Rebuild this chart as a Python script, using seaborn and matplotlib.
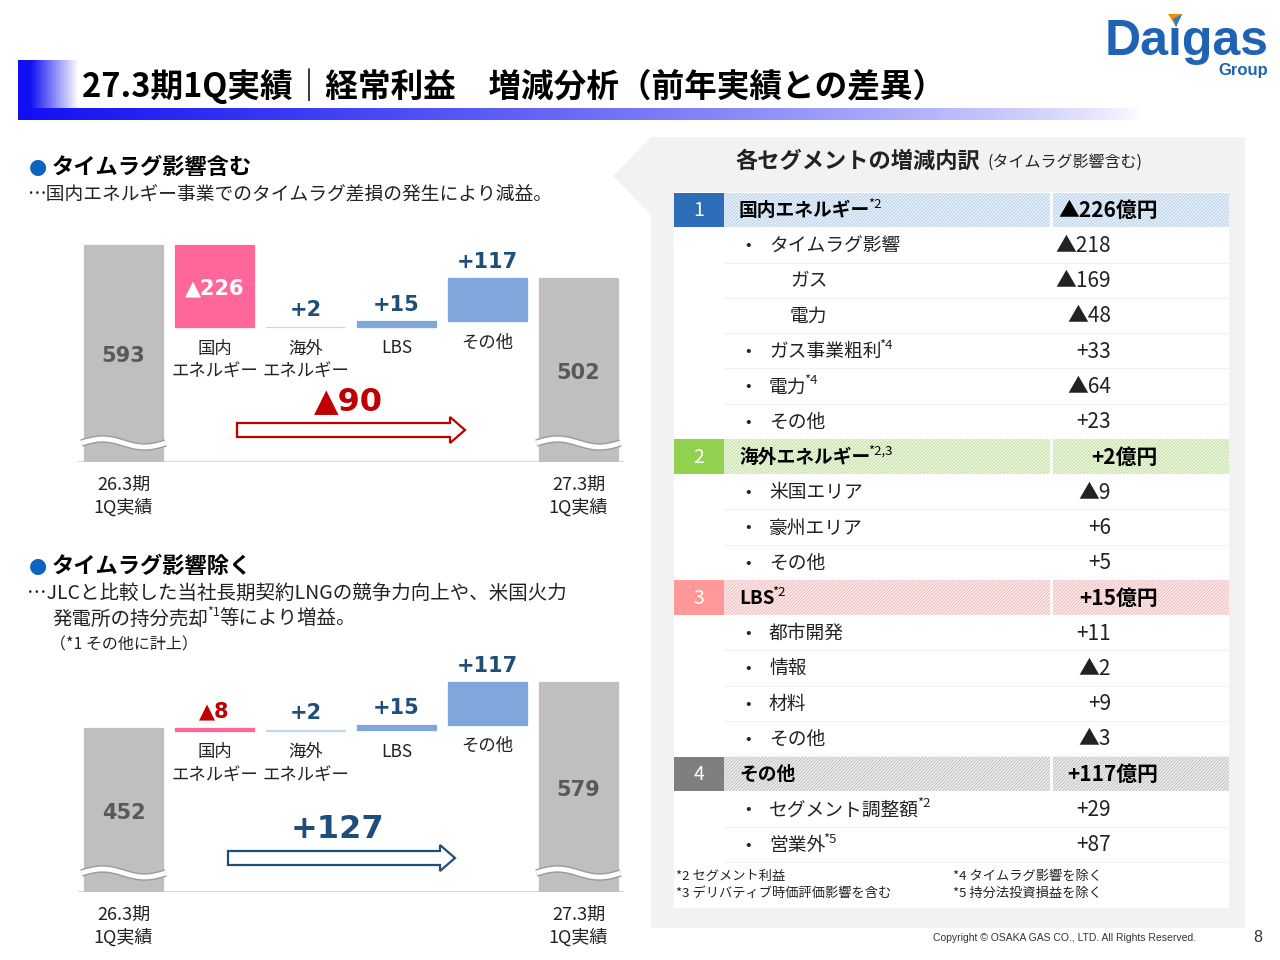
import numpy as np
import pandas as pd
import matplotlib
matplotlib.use("Agg")
import matplotlib.pyplot as plt
from matplotlib.patches import Rectangle, Polygon
import seaborn as sns

# ---------------- data ----------------
categories = ["26.3期\n1Q実績", "国内\nエネルギー", "海外\nエネルギー", "LBS", "その他", "27.3期\n1Q実績"]

incl_start = 593
incl_deltas = [-226, 2, 15, 117]
incl_end = 502
incl_change = -90

excl_start = 452
excl_deltas = [-8, 2, 15, 117]
excl_end = 579
excl_change = 127

seg_numbers = ["1", "2", "3", "4"]
seg_names = ["国内エネルギー", "海外エネルギー", "LBS", "その他"]
seg_notes = ["*2", "*2,3", "*2", ""]
seg_totals = [-226, 2, 15, 117]

seg1_items = ["タイムラグ影響", "ガス", "電力", "ガス事業粗利", "電力", "その他"]
seg1_notes = ["", "", "", "*4", "*4", ""]
seg1_levels = [1, 2, 2, 1, 1, 1]
seg1_values = [-218, -169, -48, 33, -64, 23]

seg2_items = ["米国エリア", "豪州エリア", "その他"]
seg2_notes = ["", "", ""]
seg2_levels = [1, 1, 1]
seg2_values = [-9, 6, 5]

seg3_items = ["都市開発", "情報", "材料", "その他"]
seg3_notes = ["", "", "", ""]
seg3_levels = [1, 1, 1, 1]
seg3_values = [11, -2, 9, -3]

seg4_items = ["セグメント調整額", "営業外"]
seg4_notes = ["*2", "*5"]
seg4_levels = [1, 1]
seg4_values = [29, 87]

footnotes_left = ["*2 セグメント利益", "*3 デリバティブ時価評価影響を含む"]
footnotes_right = ["*4 タイムラグ影響を除く", "*5 持分法投資損益を除く"]

# ---------------- style ----------------
sns.set_style("white")
plt.rcParams["font.family"] = ["Noto Sans CJK JP", "DejaVu Sans"]
plt.rcParams["hatch.linewidth"] = 0.8

GRAY = "#BFBFBF"
PINK = "#FF6699"
LIGHTBLUE = "#C5D8F0"
MIDBLUE = "#7FA7DC"
NAVY = "#1F4E79"
RED = "#C00000"
TXT = "#222222"


def fmt(v, unit=""):
    return ("▲" if v < 0 else "+") + f"{abs(v)}" + unit


fig = plt.figure(figsize=(12.8, 9.6), dpi=100)
fig.patch.set_facecolor("white")
ax_bg = fig.add_axes([0, 0, 1, 1])
ax_bg.set_xlim(0, 1280)
ax_bg.set_ylim(960, 0)
ax_bg.axis("off")
renderer = fig.canvas.get_renderer()


def chain_text(ax, x, y, parts, **common):
    """parts: list of (text, kwargs, dy). Draw sequentially left to right."""
    cx = x
    for txt, kw, dy in parts:
        k = dict(common)
        k.update(kw)
        gap = k.pop("gap", 0)
        t = ax.text(cx, y + dy, txt, ha="left", va="center", **k)
        bb = t.get_window_extent(renderer)
        cx = bb.x1 + gap
    return cx


# ---------------- title ----------------
H, W = 60, 1122
xs = 18 + np.arange(W)[None, :]
ys = 60 + np.arange(H)[:, None]
left_a = np.clip(1 - (xs - 30) / 48.0, 0, 1) * np.ones_like(ys)
bot_a = (ys >= 108) * np.clip(1 - (xs - 18) / 1122.0, 0, 1) ** 0.7
alpha = np.maximum(left_a, bot_a)
img = np.zeros((H, W, 4))
img[..., 0] = 0.06
img[..., 1] = 0.06
img[..., 2] = 0.95
img[..., 3] = alpha
ax_bg.imshow(img, extent=[18, 1140, 120, 60], aspect="auto", interpolation="bilinear", zorder=1)
ax_bg.set_xlim(0, 1280)
ax_bg.set_ylim(960, 0)
ax_bg.text(82, 86, "27.3期1Q実績｜経常利益　増減分析（前年実績との差異）", fontsize=23.5,
           fontweight="bold", color="black", ha="left", va="center", zorder=3)

# logo
LOGO_FS = 36
logo = ax_bg.text(1268, 42, "Daıgas", fontsize=LOGO_FS, fontweight="bold", family="Liberation Sans",
                  color="#1F63B5", ha="right", va="center")
bbl = logo.get_window_extent(renderer)
t1 = ax_bg.text(0, -100, "Da", fontsize=LOGO_FS, fontweight="bold", family="Liberation Sans")
t2 = ax_bg.text(0, -100, "Daı", fontsize=LOGO_FS, fontweight="bold", family="Liberation Sans")
w1 = t1.get_window_extent(renderer).width
w2 = t2.get_window_extent(renderer).width
t1.remove()
t2.remove()
icx = bbl.x0 + (w1 + w2) / 2
ax_bg.add_patch(Polygon([(icx - 7, 14), (icx + 7, 14), (icx + 1, 27)], closed=True,
                        facecolor="#F08C00", edgecolor="none"))
ax_bg.add_patch(Polygon([(icx - 2, 19), (icx + 7, 14), (icx + 1, 27)], closed=True,
                        facecolor="#2F7FC0", edgecolor="none"))
ax_bg.text(1268, 70, "Group", fontsize=12, fontweight="bold", family="Liberation Sans",
           color="#1F63B5", ha="right", va="center")

# ---------------- left texts ----------------
ax_bg.text(29, 167, "●", fontsize=15, family="DejaVu Sans", color="#0A64C0", ha="left", va="center")
ax_bg.text(52, 167, "タイムラグ影響含む", fontsize=16, fontweight="bold", color="black", ha="left", va="center")
ax_bg.text(27, 195, "…国内エネルギー事業でのタイムラグ差損の発生により減益。", fontsize=13.5,
           color=TXT, ha="left", va="center")

ax_bg.text(29, 566, "●", fontsize=15, family="DejaVu Sans", color="#0A64C0", ha="left", va="center")
ax_bg.text(52, 566, "タイムラグ影響除く", fontsize=16, fontweight="bold", color="black", ha="left", va="center")
ax_bg.text(27, 593, "…JLCと比較した当社長期契約LNGの競争力向上や、米国火力", fontsize=14,
           color=TXT, ha="left", va="center")
chain_text(ax_bg, 52, 619, [("発電所の持分売却", {"fontsize": 14, "gap": -1}, 0),
                            ("*1", {"fontsize": 9, "gap": -1}, -6),
                            ("等により増益。", {"fontsize": 14}, 0)], color=TXT)
ax_bg.text(50, 645, "（*1 その他に計上）", fontsize=11.5, color=TXT, ha="left", va="center")


# ---------------- waterfall charts ----------------
def waterfall_frame(start, deltas, end):
    bottoms, heights = [0], [start]
    run = start
    for d in deltas:
        bottoms.append(min(run, run + d))
        heights.append(abs(d))
        run += d
    bottoms.append(0)
    heights.append(end)
    return pd.DataFrame({"category": categories, "bottom": bottoms, "height": heights})


def make_chart_axes(base_px, px_per_unit, ymax=600, left=78, right=624):
    top_px = base_px - ymax * px_per_unit
    return fig.add_axes([left / 1280, (960 - base_px) / 960, (right - left) / 1280,
                         (base_px - top_px) / 960])


def draw_waterfall(ax, start, deltas, end):
    df = waterfall_frame(start, deltas, end)
    sns.barplot(data=df, x="category", y="height", bottom=df["bottom"].to_numpy(),
                color=GRAY, saturation=1, width=0.86, errorbar=None, ax=ax)
    colors = [GRAY]
    for d in deltas:
        if d < 0:
            colors.append(PINK)
        elif d < 10:
            colors.append(LIGHTBLUE)
        else:
            colors.append(MIDBLUE)
    colors.append(GRAY)
    for p, c in zip(ax.patches, colors):
        p.set_facecolor(c)
        p.set_edgecolor(c)
        p.set_linewidth(0.9)
    ax.set_xlim(-0.5, 5.5)
    ax.set_ylim(0, 600)
    ax.patch.set_alpha(0)
    for s in ax.spines.values():
        s.set_visible(False)
    ax.set_xlabel("")
    ax.set_ylabel("")
    ax.set_yticks([])
    ax.set_xticks([0, 5], [categories[0], categories[-1]])
    ax.tick_params(axis="x", length=0, pad=10, labelsize=13, labelcolor=TXT)
    for lab in ax.get_xticklabels():
        lab.set_linespacing(1.3)
    ax.axhline(0, color="#D9D9D9", lw=1.6, zorder=0.5)

    for i, v in [(0, start), (5, end)]:
        ax.annotate(f"{v}", (i, v / 2), xytext=(0, -2), textcoords="offset points",
                    ha="center", va="center", fontsize=15, fontweight="bold",
                    family="DejaVu Sans", color="#595959")
    for j, d in enumerate(deltas):
        i = j + 1
        b = df.loc[i, "bottom"]
        h = df.loc[i, "height"]
        if d < 0 and abs(d) >= 50:
            ax.annotate(fmt(d), (i, b + h / 2), xytext=(0, -2), textcoords="offset points",
                        ha="center", va="center", fontsize=15,
                        fontweight="bold", family="DejaVu Sans", color="white")
        else:
            ax.annotate(fmt(d), (i, b + h), xytext=(0, 12), textcoords="offset points",
                        ha="center", va="center", fontsize=15, fontweight="bold",
                        family="DejaVu Sans", color=RED if d < 0 else NAVY)
        ax.annotate(categories[i], (i, b), xytext=(0, -9), textcoords="offset points",
                    ha="center", va="top", fontsize=12.5, color=TXT, linespacing=1.3)
    return df


ax1 = make_chart_axes(462, 0.3665)
draw_waterfall(ax1, incl_start, incl_deltas, incl_end)
ax2 = make_chart_axes(892, 0.363)
draw_waterfall(ax2, excl_start, excl_deltas, excl_end)

ax_bg.set_zorder(0)
ax1.set_zorder(1)
ax2.set_zorder(1)

ax_top = fig.add_axes([0, 0, 1, 1])
ax_top.set_xlim(0, 1280)
ax_top.set_ylim(960, 0)
ax_top.axis("off")
ax_top.set_zorder(2)
ax_top.patch.set_alpha(0)


def wave(ax, idx, base_px):
    bb = ax.patches[idx].get_window_extent(renderer)
    x = np.linspace(bb.x0 - 3, bb.x1 + 3, 80)
    yc = base_px - 19
    y = yc - 4 * np.sin(2 * np.pi * (x - x[0]) / (x[-1] - x[0]))
    ax_top.plot(x, y, color="#9A9A9A", lw=5.4, solid_capstyle="butt", zorder=5)
    ax_top.plot(x, y, color="white", lw=3.4, solid_capstyle="butt", zorder=6)


def block_arrow(x0, x1, yc, color):
    sh, hd, hl = 7, 13, 15
    pts = [(x0, yc - sh), (x1 - hl, yc - sh), (x1 - hl, yc - hd), (x1, yc),
           (x1 - hl, yc + hd), (x1 - hl, yc + sh), (x0, yc + sh)]
    ax_top.add_patch(Polygon(pts, closed=True, facecolor="white", edgecolor=color, lw=1.6, zorder=5))


fig.canvas.draw()
wave(ax1, 0, 462)
wave(ax1, 5, 462)
wave(ax2, 0, 892)
wave(ax2, 5, 892)
block_arrow(237, 465, 430, RED)
block_arrow(228, 455, 858, NAVY)
ax_top.text(348, 402, fmt(incl_change), fontsize=23, fontweight="bold", family="DejaVu Sans",
            color=RED, ha="center", va="center")
ax_top.text(337, 829, fmt(excl_change), fontsize=23, fontweight="bold", family="DejaVu Sans",
            color=NAVY, ha="center", va="center")

# ---------------- right panel ----------------
ax_bg.add_patch(Rectangle((651, 137), 594, 791, facecolor="#F2F2F2", edgecolor="none", zorder=0.5))
ax_bg.add_patch(Polygon([(651, 137), (613, 176), (651, 215)], closed=True,
                        facecolor="#F2F2F2", edgecolor="none", zorder=0.5))
chain_text(ax_bg, 735, 161,
           [("各セグメントの増減内訳", {"fontsize": 16, "fontweight": "bold", "gap": 8}, 0),
            ("(タイムラグ影響含む)", {"fontsize": 11.5}, 1)], color=TXT)

ax_bg.add_patch(Rectangle((674, 192), 555, 716, facecolor="white", edgecolor="none", zorder=0.8))

box_colors = ["#2E6DB8", "#92D050", "#FF9999", "#7F7F7F"]
band_face = ["#EEF4FB", "#F1F8E9", "#FDF0F0", "#F1F1F1"]
band_hatch = ["#B9D3EE", "#C5E3A5", "#F4BDBD", "#C4C4C4"]

segments_items = [
    (seg1_items, seg1_notes, seg1_levels, seg1_values),
    (seg2_items, seg2_notes, seg2_levels, seg2_values),
    (seg3_items, seg3_notes, seg3_levels, seg3_values),
    (seg4_items, seg4_notes, seg4_levels, seg4_values),
]

row_h = 35.25
top0 = 192
row = 0
for k in range(4):
    top = top0 + row * row_h
    cy = top + row_h / 2 + 1
    ax_bg.add_patch(Rectangle((674, top + 0.5), 50, row_h - 1, facecolor=box_colors[k],
                              edgecolor="none", zorder=1))
    ax_bg.add_patch(Rectangle((724, top + 0.5), 505, row_h - 1, facecolor=band_face[k],
                              edgecolor=band_hatch[k], hatch="//////////", lw=0, zorder=1))
    ax_bg.plot([1051, 1051], [top + 0.5, top + row_h - 0.5], color="white", lw=2, zorder=1.5)
    ax_bg.text(699, cy, seg_numbers[k], fontsize=14, color="white", ha="center", va="center", zorder=2)
    parts = [(seg_names[k], {"fontsize": 13.5, "fontweight": "bold", "gap": -2}, 0)]
    if seg_notes[k]:
        parts.append((seg_notes[k], {"fontsize": 9.5}, -6))
    chain_text(ax_bg, 739, cy, parts, color="black", zorder=2)
    ax_bg.text(1158, cy, fmt(seg_totals[k], "億円"), fontsize=15, fontweight="bold", color="black",
               ha="right", va="center", zorder=2)
    row += 1
    items, notes, levels, values = segments_items[k]
    for name, note, lvl, val in zip(items, notes, levels, values):
        top = top0 + row * row_h
        cy = top + row_h / 2 + 1
        ax_bg.plot([724, 1229], [top + row_h, top + row_h], color="#F2F2F2", lw=0.8, zorder=1)
        if lvl == 1:
            ax_bg.text(748, cy, "•", fontsize=12, color=TXT, ha="center", va="center", zorder=2)
            lx = 769
        else:
            lx = 790
        parts = [(name, {"fontsize": 13.5, "gap": -2}, 0)]
        if note:
            parts.append((note, {"fontsize": 9.5}, -6))
        chain_text(ax_bg, lx, cy, parts, color=TXT, zorder=2)
        ax_bg.text(1111, cy, fmt(val), fontsize=15, color=TXT, ha="right", va="center", zorder=2)
        row += 1

for i, (a, b) in enumerate(zip(footnotes_left, footnotes_right)):
    y = 876 + i * 17
    ax_bg.text(676, y, a, fontsize=9.5, color=TXT, ha="left", va="center", zorder=2)
    ax_bg.text(953, y, b, fontsize=9.5, color=TXT, ha="left", va="center", zorder=2)

ax_bg.text(933, 938, "Copyright © OSAKA GAS CO., LTD. All Rights Reserved.", fontsize=7.5,
           family="Liberation Sans", color="#333333", ha="left", va="center")
ax_bg.text(1258, 938, "8", fontsize=11.5, family="Liberation Sans", color="#333333",
           ha="center", va="center")

fig.savefig("out.png", dpi=100, facecolor="white")
